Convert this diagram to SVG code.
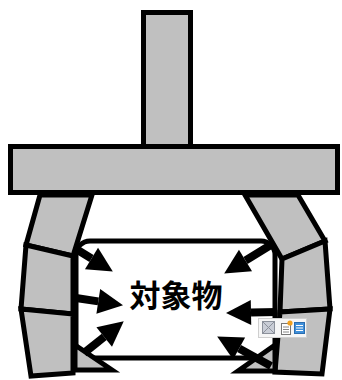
<svg xmlns="http://www.w3.org/2000/svg" width="342" height="380" viewBox="0 0 342 380">
  <style>
    .part { fill: #c0c0c0; stroke: #000; stroke-width: 5; stroke-linejoin: miter; }
    .box { fill: #fff; stroke: #000; stroke-width: 5; }
    .force { stroke: #000; stroke-width: 8; fill: none; marker-end: url(#head); }
    .label { font-family: "Noto Sans CJK JP", "Noto Sans", sans-serif; font-size: 31px; font-weight: bold; fill: #000; text-anchor: middle; }
  </style>
  <defs>
    <marker id="head" markerUnits="userSpaceOnUse" markerWidth="26" markerHeight="26" refX="0" refY="12.5" orient="auto" overflow="visible">
      <path d="M0,0 L25,12.5 L0,25 z" fill="#000"/>
    </marker>
  </defs>

  <!-- press rod and crossbar -->
  <g id="rod">
    <rect class="part" x="143.5" y="12.5" width="47" height="134"/>
  </g>
  <g id="crossbar">
    <rect class="part" x="10.5" y="146.5" width="327" height="46"/>
  </g>

  <!-- left gripper finger: three jointed links -->
  <g id="left-finger">
    <polygon class="part" points="40,195 92,195 73,256 26,245"/>
    <polygon class="part" points="26,245 73,256 73,314 21,309"/>
    <polygon class="part" points="21,309 73,314 73,373 31,376"/>
  </g>

  <!-- right gripper finger -->
  <g id="right-finger">
    <polygon class="part" points="245,195 298,195 325,241 282,259"/>
    <polygon class="part" points="282,259 325,241 330,309 280,312"/>
    <polygon class="part" points="280,312 330,309 322,374 275,372"/>
  </g>

  <!-- gripped object -->
  <g id="object">
    <rect class="box" x="76" y="241" width="199" height="117" rx="14"/>
    <text class="label" x="176" y="307">対象物</text>
  </g>

  <!-- fingertip wedges -->
  <g id="left-tip">
    <polygon class="part" points="75,345 112,370 75,370"/>
  </g>
  <g id="right-tip">
    <polygon class="part" points="275,345 238,371 275,371"/>
  </g>

  <!-- contact forces -->
  <g id="forces">
    <line class="force" x1="76" y1="249" x2="91.5" y2="258.5"/>
    <line class="force" x1="76" y1="298" x2="98.3" y2="301.4"/>
    <line class="force" x1="84" y1="353" x2="104.2" y2="336.9"/>
    <line class="force" x1="274" y1="243" x2="245.5" y2="260.5"/>
    <line class="force" x1="277" y1="312" x2="251" y2="312.5"/>
    <line class="force" x1="271" y1="366" x2="239.1" y2="348.5"/>
  </g>

  <!-- small toolbar -->
  <g id="toolbar">
    <rect x="258.5" y="318.5" width="48" height="19" fill="#f6f6f6" stroke="#cfcfcf" stroke-width="1"/>
    <rect x="262.5" y="321.5" width="12" height="12" fill="#c9cdd6" stroke="#8c919b" stroke-width="1"/>
    <path d="M263,322 L274,333 M274,322 L263,333" stroke="#8c919b" stroke-width="1"/>
    <rect x="281.5" y="323.5" width="9" height="11" fill="#fff" stroke="#777" stroke-width="1"/>
    <path d="M283,327 h6 M283,329.5 h6 M283,332 h6" stroke="#888" stroke-width="1"/>
    <circle cx="290" cy="323" r="2.6" fill="#f0a020"/>
    <rect x="294.5" y="322.5" width="10" height="11" fill="#3f8fd9" stroke="#2a6db0" stroke-width="1"/>
    <path d="M296,325.5 h7 M296,328 h7 M296,330.5 h7" stroke="#fff" stroke-width="1"/>
  </g>
</svg>
